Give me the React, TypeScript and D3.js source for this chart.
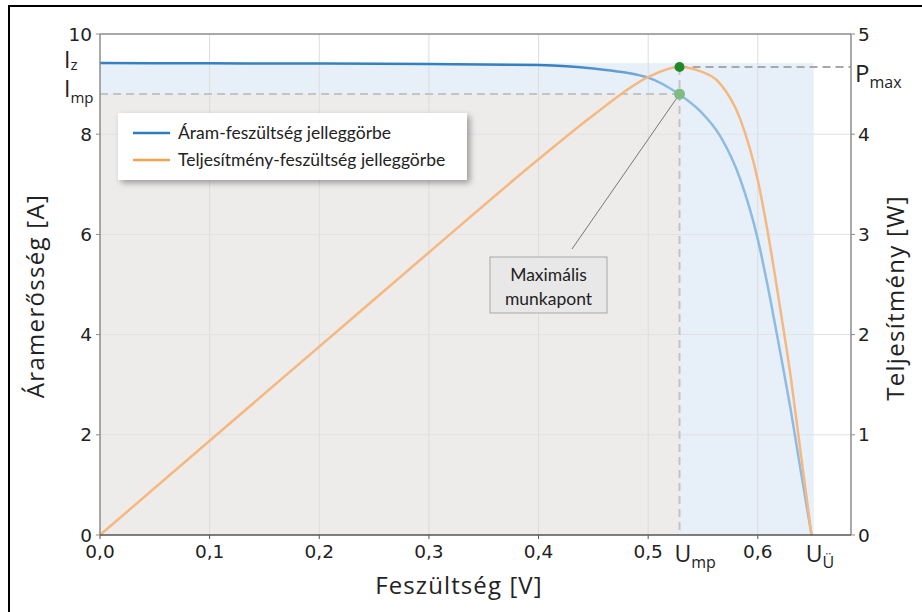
import React from "react";
import * as d3 from "d3";

// feszültség [V]
const voltage = [0, 0.1, 0.2, 0.3, 0.4, 0.45, 0.5, 0.528, 0.547, 0.566, 0.584, 0.6, 0.611, 0.62, 0.63, 0.639, 0.649];
// áramerősség [A]
const current = [9.42, 9.415, 9.41, 9.4, 9.38, 9.31, 9.13, 8.8, 8.47, 7.95, 7.1, 5.9, 4.75, 3.7, 2.5, 1.3, 0];
// teljesítmény [W]
const power = [0, 0.94, 1.88, 2.82, 3.75, 4.19, 4.57, 4.67, 4.63, 4.5, 4.15, 3.54, 2.9, 2.29, 1.58, 0.83, 0];

const xTicks = [0, 0.1, 0.2, 0.3, 0.4, 0.5, 0.6];
const leftTicks = [0, 2, 4, 6, 8, 10];
const rightTicks = [0, 1, 2, 3, 4, 5];

// jellemző pontok
const Iz = 9.42;
const Imp = 8.8;
const Ump = 0.5286;
const Uu = 0.651;
const Pmax = 4.67;

const legendItems = [
  { label: "Áram-feszültség jelleggörbe", color: "#2f7cc0" },
  { label: "Teljesítmény-feszültség jelleggörbe", color: "#f5a24f" },
];

const W = 922;
const H = 612;
const left = 100;
const right = 851;
const top = 34;
const bottom = 535;

const num = (v: number, d: number) => v.toFixed(d).replace(".", ",");

export default function App() {
  const x = d3.scaleLinear().domain([0, 0.685]).range([left, right]);
  const yI = d3.scaleLinear().domain([0, 10]).range([bottom, top]);
  const yP = d3.scaleLinear().domain([0, 5]).range([bottom, top]);

  const ivLine = d3
    .line<number>()
    .x((d, i) => x(voltage[i]))
    .y((d) => yI(d))
    .curve(d3.curveMonotoneX);
  const pvLine = d3
    .line<number>()
    .x((d, i) => x(voltage[i]))
    .y((d) => yP(d))
    .curve(d3.curveMonotoneX);

  const tickFont = "'DejaVu Sans', sans-serif";
  const labFont = "'Open Sans', sans-serif";
  const lgFont = "Lato, sans-serif";
  const spine = "#8c8c8c";

  return (
    <svg width={W} height={H} style={{ position: "absolute", left: 0, top: 0, background: "#fff" }}>
      <defs>
        <linearGradient id="ivGrad" gradientUnits="userSpaceOnUse" x1={x(0.42)} x2={x(0.52)} y1={0} y2={0}>
          <stop offset="0" stopColor="#3580c2" />
          <stop offset="1" stopColor="#8dbbe2" />
        </linearGradient>
        <filter id="shadow" x="-10%" y="-20%" width="130%" height="160%">
          <feDropShadow dx="3" dy="3" stdDeviation="3" floodColor="#000" floodOpacity="0.35" />
        </filter>
      </defs>

      {/* külső keret */}
      <rect x={9} y={6} width={940} height={640} fill="none" stroke="#000" strokeWidth={2} />

      {/* kitöltések */}
      <rect x={x(0)} y={yI(Iz)} width={x(Uu) - x(0)} height={yI(0) - yI(Iz)} fill="#e7f0f9" />
      <rect x={x(0)} y={yI(Imp)} width={x(Ump) - x(0)} height={yI(0) - yI(Imp)} fill="#eeebeb" />

      {/* rács */}
      {xTicks.slice(1).map((t) => (
        <line key={"gx" + t} x1={x(t)} x2={x(t)} y1={top} y2={bottom} stroke="#dcdcdc" strokeWidth={1} />
      ))}
      {leftTicks.slice(1, -1).map((t) => (
        <line key={"gy" + t} x1={left} x2={right} y1={yI(t)} y2={yI(t)} stroke="#e2e2e2" strokeWidth={1} />
      ))}

      {/* szaggatott segédvonalak */}
      <line x1={x(0)} x2={x(Ump)} y1={yI(Imp)} y2={yI(Imp)} stroke="#c4c4c4" strokeWidth={2} strokeDasharray="8,5" />
      <line x1={x(Ump)} x2={x(Ump)} y1={yP(Pmax)} y2={bottom} stroke="#c4c4c4" strokeWidth={2} strokeDasharray="8,5" />
      <line x1={x(Ump)} x2={right} y1={yP(Pmax)} y2={yP(Pmax)} stroke="#a8a8a8" strokeWidth={2} strokeDasharray="8,5" />

      {/* görbék */}
      <path d={ivLine(current) || ""} fill="none" stroke="url(#ivGrad)" strokeWidth={2.5} />
      <path d={pvLine(power) || ""} fill="none" stroke="#f5b87f" strokeWidth={2.5} />

      {/* tengelyek */}
      <line x1={left} x2={right} y1={top} y2={top} stroke={spine} strokeWidth={1.5} />
      <line x1={left} x2={left} y1={top} y2={bottom} stroke={spine} strokeWidth={1.5} />
      <line x1={right} x2={right} y1={top} y2={bottom} stroke={spine} strokeWidth={1.5} />
      <line x1={left} x2={right} y1={bottom} y2={bottom} stroke="#555" strokeWidth={1.5} />

      {xTicks.map((t) => (
        <g key={"xt" + t}>
          <line x1={x(t)} x2={x(t)} y1={bottom} y2={bottom + 4} stroke="#555" />
          <text x={x(t)} y={558} textAnchor="middle" fontFamily={tickFont} fontSize={18.5} fill="#222">
            {num(t, 1)}
          </text>
        </g>
      ))}
      {leftTicks.map((t) => (
        <g key={"lt" + t}>
          <line x1={left - 4} x2={left} y1={yI(t)} y2={yI(t)} stroke={spine} />
          <text x={92} y={yI(t)} dy="0.36em" textAnchor="end" fontFamily={tickFont} fontSize={18.5} fill="#222">
            {t}
          </text>
        </g>
      ))}
      {rightTicks.map((t) => (
        <g key={"rt" + t}>
          <line x1={right} x2={right + 4} y1={yP(t)} y2={yP(t)} stroke={spine} />
          <text x={858} y={yP(t)} dy="0.36em" textAnchor="start" fontFamily={tickFont} fontSize={18.5} fill="#222">
            {t}
          </text>
        </g>
      ))}

      {/* jellemző értékek feliratai */}
      <text x={64} y={yI(Iz) + 5} fontFamily={labFont} fontSize={23} fill="#222">
        I<tspan fontSize={15} dy={2}>z</tspan>
      </text>
      <text x={64} y={yI(Imp) + 3} fontFamily={labFont} fontSize={23} fill="#222">
        I<tspan fontSize={15} dy={6}>mp</tspan>
      </text>
      <text x={855} y={yP(Pmax) + 15} fontFamily={labFont} fontSize={24} fill="#222">
        P<tspan fontSize={16} dy={6}>max</tspan>
      </text>
      <text x={x(Ump) - 5} y={562} fontFamily={labFont} fontSize={23} fill="#222">
        U<tspan fontSize={16} dy={6}>mp</tspan>
      </text>
      <text x={x(Uu) - 8} y={562} fontFamily={labFont} fontSize={23} fill="#222">
        U<tspan fontSize={16} dy={6}>Ü</tspan>
      </text>

      {/* tengelyfeliratok */}
      <text x={459} y={594} textAnchor="middle" fontFamily={labFont} fontSize={24} letterSpacing={1.1} fill="#222">
        Feszültség [V]
      </text>
      <text transform="translate(44,296) rotate(-90)" textAnchor="middle" fontFamily={labFont} fontSize={24} letterSpacing={1.3} fill="#222">
        Áramerősség [A]
      </text>
      <text transform="translate(904,298) rotate(-90)" textAnchor="middle" fontFamily={labFont} fontSize={24} letterSpacing={1.3} fill="#222">
        Teljesítmény [W]
      </text>

      {/* munkapont */}
      <line x1={572} x2={x(Ump)} y1={249} y2={yI(Imp)} stroke="#777" strokeWidth={1} />
      <circle cx={x(Ump)} cy={yP(Pmax)} r={5} fill="#1f8a2a" />
      <circle cx={x(Ump)} cy={yI(Imp)} r={5.5} fill="#80bb84" />
      <rect x={490} y={257} width={117} height={56} fill="#e8e8e8" stroke="#a8a8a8" strokeWidth={1} />
      <text x={548.5} y={281} textAnchor="middle" fontFamily={lgFont} fontSize={17.5} fill="#222">
        Maximális
      </text>
      <text x={548.5} y={305} textAnchor="middle" fontFamily={lgFont} fontSize={17.5} fill="#222">
        munkapont
      </text>

      {/* jelmagyarázat */}
      <rect x={118} y={113} width={349} height={67} fill="#fff" filter="url(#shadow)" />
      {legendItems.map((d, i) => (
        <g key={d.label} transform={`translate(133,${133 + i * 27})`}>
          <line x1={0} x2={37} y1={0} y2={0} stroke={d.color} strokeWidth={2.5} />
          <text x={45} y={0} dy="0.35em" fontFamily={lgFont} fontSize={17.5} fill="#222">
            {d.label}
          </text>
        </g>
      ))}
    </svg>
  );
}
